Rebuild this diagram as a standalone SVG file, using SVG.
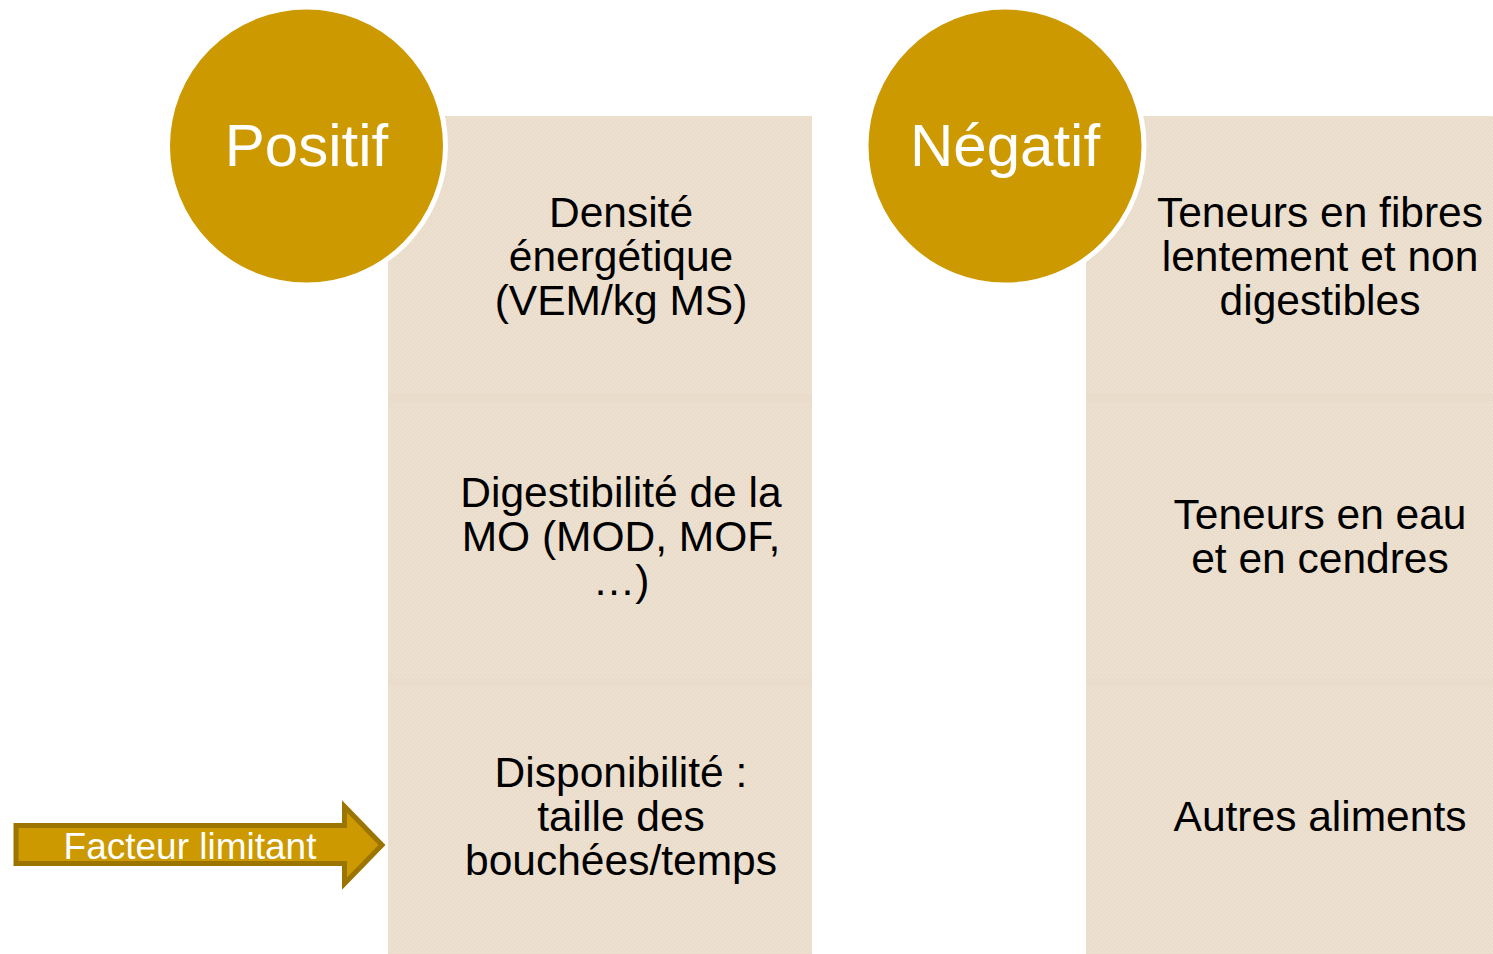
<svg xmlns="http://www.w3.org/2000/svg" width="1493" height="954" viewBox="0 0 1493 954">
  <defs>
    <pattern id="dots" width="4" height="4" patternUnits="userSpaceOnUse">
      <rect width="4" height="4" fill="#EADDCB"/>
      <rect x="0" y="0" width="1" height="1" fill="#F1E7DA"/>
      <rect x="2" y="2" width="1" height="1" fill="#F1E7DA"/>
    </pattern>
  </defs>
  <style>
    .band { fill: #E9DCCA; }
    .cell { fill: url(#dots); }
    .circ { fill: #CC9900; stroke: #FFFFFF; stroke-width: 5; }
    .head { font-family: "Liberation Sans", Arial, sans-serif; font-size: 60px; fill: #FFFFFF; text-anchor: middle; }
    .lbl { font-family: "Liberation Sans", Arial, sans-serif; font-size: 42.5px; fill: #000000; text-anchor: middle; }
    .arr { fill: #CC9900; stroke: #9C7400; stroke-width: 5; stroke-linejoin: miter; }
    .arrtxt { font-family: "Liberation Sans", Arial, sans-serif; font-size: 37px; fill: #FFFFFF; text-anchor: middle; }
  </style>
  <rect width="1493" height="954" fill="#FFFFFF"/>

  <g id="panel-positif">
    <rect class="band" x="388" y="116" width="424" height="838"/>
    <rect class="cell" x="388" y="116" width="424" height="278"/>
    <rect class="cell" x="388" y="401" width="424" height="278"/>
    <rect class="cell" x="388" y="686" width="424" height="268"/>
  </g>
  <g id="panel-negatif">
    <rect class="band" x="1086" y="116" width="407" height="838"/>
    <rect class="cell" x="1086" y="116" width="407" height="278"/>
    <rect class="cell" x="1086" y="401" width="407" height="278"/>
    <rect class="cell" x="1086" y="686" width="407" height="268"/>
  </g>

  <g id="item-densite">
    <text class="lbl" x="621" y="227">Densité</text>
    <text class="lbl" x="621" y="271">énergétique</text>
    <text class="lbl" x="621" y="315">(VEM/kg MS)</text>
  </g>
  <g id="item-digestibilite">
    <text class="lbl" x="621" y="507">Digestibilité de la</text>
    <text class="lbl" x="621" y="551">MO (MOD, MOF,</text>
    <text class="lbl" x="621" y="595">…)</text>
  </g>
  <g id="item-disponibilite">
    <text class="lbl" x="621" y="787">Disponibilité :</text>
    <text class="lbl" x="621" y="831">taille des</text>
    <text class="lbl" x="621" y="875">bouchées/temps</text>
  </g>

  <g id="item-fibres">
    <text class="lbl" x="1320" y="227">Teneurs en fibres</text>
    <text class="lbl" x="1320" y="271">lentement et non</text>
    <text class="lbl" x="1320" y="315">digestibles</text>
  </g>
  <g id="item-eau">
    <text class="lbl" x="1320" y="529">Teneurs en eau</text>
    <text class="lbl" x="1320" y="573">et en cendres</text>
  </g>
  <g id="item-autres">
    <text class="lbl" x="1320" y="831">Autres aliments</text>
  </g>

  <g id="node-positif">
    <circle class="circ" cx="306.5" cy="146" r="139"/>
    <text class="head" x="306.5" y="166">Positif</text>
  </g>
  <g id="node-negatif">
    <circle class="circ" cx="1005" cy="146" r="139"/>
    <text class="head" x="1005" y="166">Négatif</text>
  </g>

  <g id="connectors">
    <g id="arrow-facteur">
      <path class="arr" d="M16,825.5 L344.5,825.5 L344.5,806.5 L382,845 L344.5,883.5 L344.5,863.5 L16,863.5 Z"/>
      <text class="arrtxt" x="190" y="859">Facteur limitant</text>
    </g>
  </g>
</svg>
